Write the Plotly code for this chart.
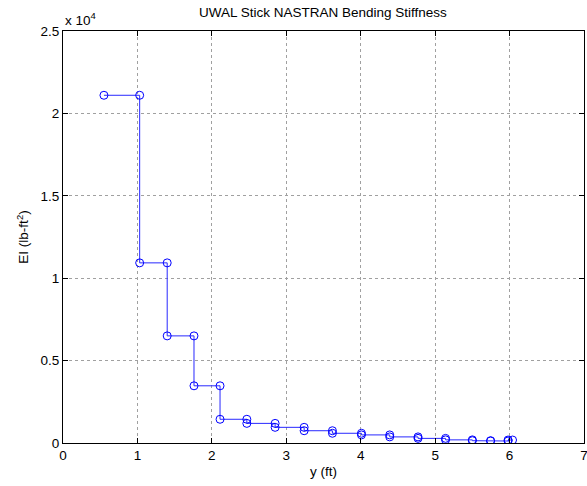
import plotly.graph_objects as go

# Segment boundaries (ft) and bending stiffness per segment (lb-ft^2)
seg_edges = [0.55, 1.03, 1.40, 1.76, 2.11, 2.47, 2.85, 3.24, 3.62, 4.01, 4.39, 4.77, 5.14, 5.50, 5.745, 5.98, 6.04]
seg_EI = [21100, 10930, 6500, 3470, 1440, 1190, 950, 745, 590, 490, 370, 280, 190, 140, 120, 180]

x_ticks = [0, 1, 2, 3, 4, 5, 6, 7]
x_ticktext = ["0", "1", "2", "3", "4", "5", "6", "7"]
y_tickvals = [0, 5000, 10000, 15000, 20000, 25000]
y_ticktext = ["0", "0.5", "1", "1.5", "2", "2.5"]

# Build step path: each segment has a start and end point
xs, ys = [], []
for i, e in enumerate(seg_EI):
    xs += [seg_edges[i], seg_edges[i + 1]]
    ys += [e, e]

fig = go.Figure()
fig.add_trace(go.Scatter(
    x=xs, y=ys, mode="lines+markers",
    line=dict(color="rgb(40,40,255)", width=1),
    marker=dict(symbol="circle-open", size=8, color="blue", line=dict(width=1, color="blue")),
    showlegend=False,
))

font = dict(family="Liberation Sans, Arial, sans-serif", size=13.5, color="black")
axis_common = dict(
    showline=True, linecolor="black", linewidth=1, mirror="ticks",
    ticks="inside", ticklen=5, tickcolor="black",
    showgrid=True, gridcolor="#a0a0a0", griddash="dot", gridwidth=1,
    zeroline=False, tickfont=font, ticklabeloverflow="allow", automargin=False,
)
fig.update_xaxes(range=[0, 7.0001], tickvals=x_ticks, ticktext=x_ticktext,
                 title=dict(text="y (ft)", font=font, standoff=4), **axis_common)
fig.update_yaxes(range=[0, 25000.01], tickvals=y_tickvals, ticktext=y_ticktext,
                 title=dict(text="EI (lb-ft<sup>2</sup>)", font=font, standoff=8), **axis_common)

fig.update_layout(
    width=587, height=486,
    margin=dict(l=63, r=3, t=31, b=43, autoexpand=False),
    paper_bgcolor="white", plot_bgcolor="white",
    font=font,
    title=dict(text="UWAL Stick NASTRAN Bending Stiffness", x=0.55, xanchor="center", y=0.985, yanchor="top",
               font=dict(family="Liberation Sans, Arial, sans-serif", size=13.5, color="black")),
)
fig.add_annotation(text="x 10<sup>4</sup>", xref="paper", yref="paper", x=0, y=1, xanchor="left", yanchor="bottom",
                   showarrow=False, font=font, yshift=1)

fig.write_html("out.html")
